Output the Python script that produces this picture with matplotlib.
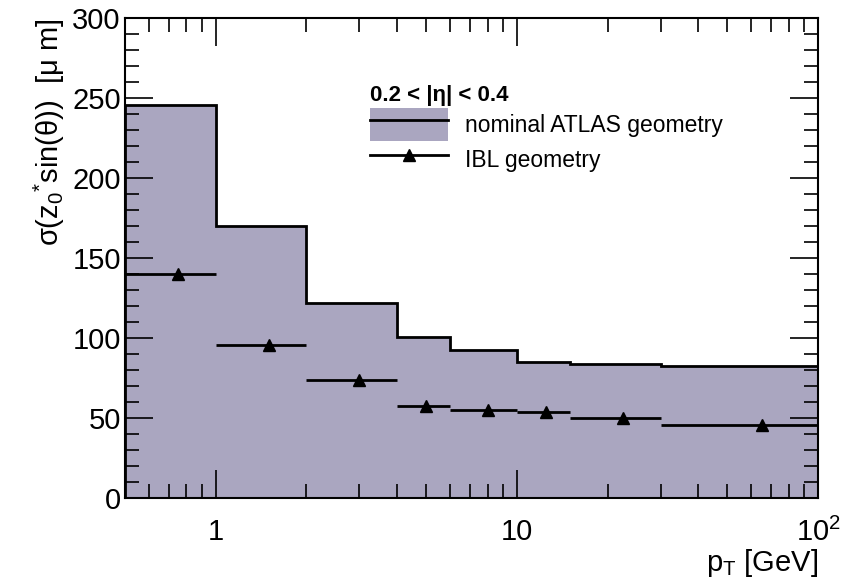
import numpy as np
import matplotlib.pyplot as plt
from matplotlib.lines import Line2D
from matplotlib.patches import Patch
from matplotlib.ticker import MultipleLocator, LogLocator, NullFormatter, FixedLocator, FixedFormatter

plt.rcParams['font.family'] = ['Liberation Sans', 'DejaVu Sans']
plt.rcParams['mathtext.fontset'] = 'custom'
plt.rcParams['mathtext.rm'] = 'Liberation Sans'
plt.rcParams['mathtext.it'] = 'Liberation Sans'

# pT bin edges [GeV]
edges = [0.5, 1, 2, 4, 6, 10, 15, 30, 100]
# sigma(z0* sin theta) [um]
nominal = [246, 170, 122, 101, 93, 85, 84, 83]
ibl = [140, 96, 74, 58, 55, 54, 50, 46]

fill_col = '#aaa6c0'

edges = np.array(edges)
centers = 0.5 * (edges[:-1] + edges[1:])

fig = plt.figure(figsize=(8.64, 5.83), dpi=100)
ax = fig.add_axes([0.1447, 0.145, 0.8021, 0.824])

ax.stairs(nominal, edges, fill=True, color=fill_col, zorder=1)
ax.stairs(nominal, edges, color='black', lw=2, zorder=2)

ax.errorbar(centers, ibl, xerr=[centers - edges[:-1], edges[1:] - centers],
            fmt='^', color='black', ms=8, lw=2, capsize=0, zorder=3)

ax.set_xscale('log')
ax.set_xlim(0.5, 100)
ax.set_ylim(0, 300)

ax.xaxis.set_major_locator(FixedLocator([1, 10, 100]))
ax.xaxis.set_major_formatter(FixedFormatter(['1', '10', '$10^2$']))
ax.xaxis.set_minor_locator(LogLocator(base=10, subs=np.arange(2, 10)))
ax.xaxis.set_minor_formatter(NullFormatter())
ax.yaxis.set_major_locator(MultipleLocator(50))
ax.yaxis.set_minor_locator(MultipleLocator(10))

ax.tick_params(which='both', direction='in', top=True, right=True, labelsize=21, width=1.2)
ax.tick_params(which='major', length=20)
ax.tick_params(which='minor', length=10)
ax.tick_params(axis='x', which='major', pad=14)
ax.tick_params(axis='y', which='major', pad=3)
for s in ax.spines.values():
    s.set_linewidth(1.5)

ax.set_xlabel('p$_{T}$ [GeV]', fontsize=21, loc='right', labelpad=0)
ax.set_ylabel(r'σ(z$_{0}$$^{*}$sin(θ))  [μ m]', fontsize=21, loc='top', labelpad=4)

handles = [(Patch(facecolor=fill_col, edgecolor='none'), Line2D([], [], color='black', lw=2)),
           Line2D([], [], color='black', lw=2, marker='^', ms=8)]
leg = ax.legend(handles, ['nominal ATLAS geometry', 'IBL geometry'],
                title='0.2 < |η| < 0.4', loc='upper left', bbox_to_anchor=(0.34, 0.88),
                frameon=False, fontsize=16.5, handlelength=3.4, handleheight=1.8,
                handletextpad=0.75, borderaxespad=0, labelspacing=0.1)
leg.get_title().set_fontweight('bold')
leg.get_title().set_fontsize(16)
leg._legend_box.align = 'left'

fig.savefig('out.png', dpi=100)
